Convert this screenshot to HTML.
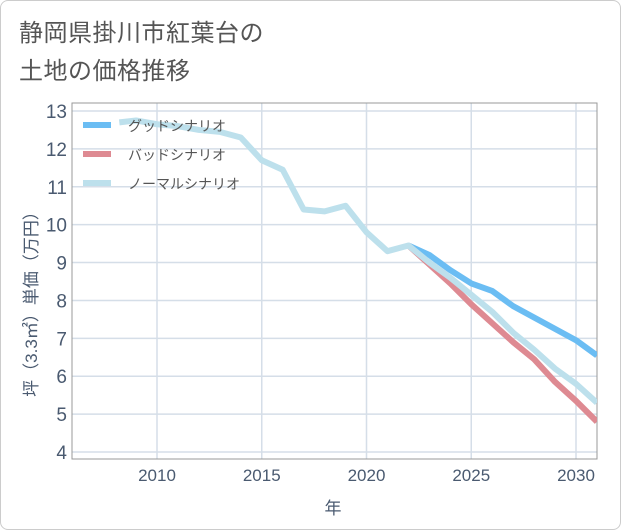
<!DOCTYPE html>
<html><head><meta charset="utf-8"><style>
body{margin:0;background:#fff;}
#wrap{position:relative;width:619px;height:528px;border:1px solid #ccc;border-radius:8px;background:#fff;font-family:"Liberation Sans","Noto Sans CJK JP",sans-serif;overflow:hidden}
#title{position:absolute;left:18px;top:14px;font-size:24px;line-height:38px;color:#555;letter-spacing:0.5px}
</style></head><body>
<div id="wrap">
<div id="title">静岡県掛川市紅葉台の<br>土地の価格推移</div>
<svg id="chart" width="621" height="530" style="position:absolute;left:-1px;top:-1px"></svg>
</div>
<script>
const years=[2008.2,2009,2010,2011,2012,2013,2014,2015,2016,2017,2018,2019,2020,2021,2022,2023,2024,2025,2026,2027,2028,2029,2030,2031];
const normal=[12.7,12.75,12.65,12.6,12.5,12.45,12.3,11.7,11.45,10.4,10.35,10.5,9.8,9.3,9.45,9.0,8.6,8.15,7.7,7.15,6.7,6.2,5.8,5.3];
const futureYears=[2022,2023,2024,2025,2026,2027,2028,2029,2030,2031];
const good=[9.45,9.2,8.8,8.45,8.25,7.85,7.55,7.25,6.95,6.55];
const bad=[9.45,8.95,8.45,7.9,7.4,6.9,6.45,5.85,5.35,4.8];
const yTicks=[4,5,6,7,8,9,10,11,12,13];
const xTicks=[2010,2015,2020,2025,2030];
const legendNames=["グッドシナリオ","バッドシナリオ","ノーマルシナリオ"];
const NS="http://www.w3.org/2000/svg";
const svg=document.getElementById('chart');
const L=72,R=597,T=103,B=459;
const x=v=>157+(v-2010)*(576-157)/20;
const y=v=>452-(v-4)*(452-111)/9;
function mk(t,a){const e=document.createElementNS(NS,t);for(const k in a)e.setAttribute(k,a[k]);svg.appendChild(e);return e;}
const defs=mk('defs',{});
const cp=document.createElementNS(NS,'clipPath');cp.setAttribute('id','cp');
const cr=document.createElementNS(NS,'rect');cr.setAttribute('x',L);cr.setAttribute('y',T);cr.setAttribute('width',R-L);cr.setAttribute('height',B-T);
cp.appendChild(cr);defs.appendChild(cp);
for(const t of yTicks){
 const g=mk('line',{x1:L,x2:R,y1:y(t),y2:y(t),stroke:'#d5dee8','stroke-width':1.5});
 
 const tx=mk('text',{x:L-5,y:y(t)+7,'text-anchor':'end','font-size':19,fill:'#4a5a70'});tx.textContent=t;
 
}
for(const t of xTicks){
 const g=mk('line',{x1:x(t),x2:x(t),y1:T,y2:B,stroke:'#d5dee8','stroke-width':1.5});
 
 const tx=mk('text',{x:x(t),y:B+22,'text-anchor':'middle','font-size':17,fill:'#4a5a70'});tx.textContent=t;
 
}
const fr=mk('rect',{x:L,y:T,width:R-L,height:B-T,fill:'none',stroke:'#999','stroke-width':1});

function line(xs,vs,col,name){
 const p=mk('polyline',{points:xs.map((v,i)=>x(v)+','+y(vs[i])).join(' '),fill:'none',stroke:col,'stroke-width':6,'stroke-linejoin':'round','clip-path':'url(#cp)'});
 
}
line(futureYears,good,'#6bbdf3','good-scenario-line');
line(futureYears,bad,'#de8a92','bad-scenario-line');
line(years,normal,'#bde0ec','normal-scenario-line');
const cols=['#6bbdf3','#de8a92','#bde0ec'];
legendNames.forEach((n,i)=>{
 const ly=125+i*29;
 const r=mk('rect',{x:83,y:ly-3,width:28,height:6,fill:cols[i]});
 
 const t=mk('text',{x:128,y:ly+6,'font-size':14,fill:'#555'});t.textContent=n;
 
});
const xt=mk('text',{x:333,y:514,'text-anchor':'middle','font-size':17,fill:'#4a5a70'});xt.textContent='年';

const yt=mk('text',{x:0,y:0,'text-anchor':'middle','font-size':17,fill:'#4a5a70',transform:'translate(37,300) rotate(-90)'});yt.textContent='坪（3.3㎡）単価（万円）';

</script>
</body></html>
